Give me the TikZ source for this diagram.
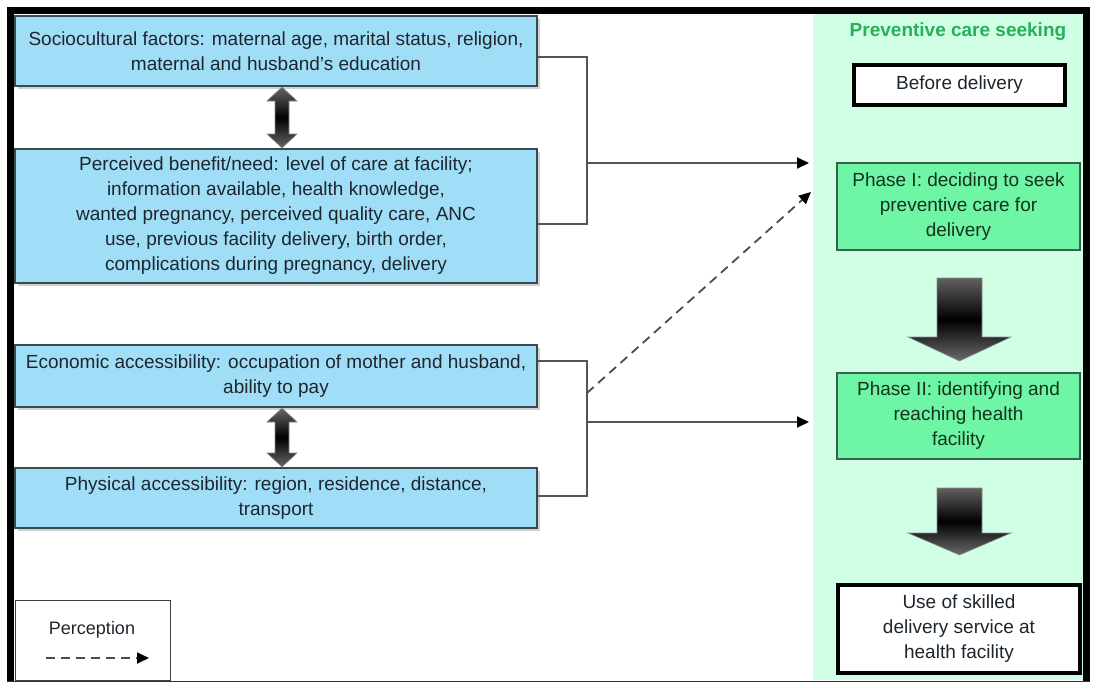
\documentclass[tikz,border=0pt]{standalone}
\usepackage{fontspec}
\setmainfont{Liberation Sans}
\usetikzlibrary{arrows.meta,shadows,calc}
\definecolor{boxblue}{RGB}{160,222,248}
\definecolor{boxedge}{RGB}{55,75,85}
\definecolor{panelgreen}{RGB}{208,255,230}
\definecolor{phasegreen}{RGB}{110,245,165}
\definecolor{phaseedge}{RGB}{55,100,70}
\definecolor{titlegreen}{RGB}{40,175,90}
\definecolor{conngray}{RGB}{85,85,85}
\definecolor{txtdark}{RGB}{30,38,45}
\definecolor{phasetxt}{RGB}{20,50,30}
\begin{document}
\begin{tikzpicture}[x=1pt,y=-1pt,
  every node/.style={font=\fontsize{19}{25}\selectfont, text=txtdark, inner sep=0pt, align=center},
  shadowed/.style={drop shadow={shadow xshift=3pt, shadow yshift=-3pt, opacity=0.3, fill=black!60}},
  factor/.style={draw=boxedge, line width=1.4pt, fill=boxblue, minimum width=522pt, shadowed},
  whitebox/.style={draw=black, line width=4.5pt, fill=white},
  phasebox/.style={draw=phaseedge, line width=1.4pt, fill=phasegreen, minimum width=243pt, minimum height=87pt, text=phasetxt},
  conn/.style={draw=conngray, line width=1.8pt},
  connarrow/.style={conn, -{Triangle[length=12pt,width=11pt,color=black]}},
  perc/.style={draw=black!70, line width=1.8pt, dash pattern=on 9pt off 6pt, -{Triangle[length=12pt,width=11pt,color=black]}},
  blockshade/.style={top color=black!62, bottom color=black!58, middle color=black, draw=black!45, line width=0.6pt},
  dblshade/.style={top color=black!60, bottom color=black!60, middle color=black, draw=black!45, line width=0.6pt}
]
\useasboundingbox (0,0) rectangle (1098,685);
\fill[white] (0,0) rectangle (1098,685);

% right panel
\fill[panelgreen] (813,14) rectangle (1083,680);

% outer frame
\draw[black!80, line width=1pt] (7,681) -- (1090,681);
\fill[black] (7,7) rectangle (1090,14);
\fill[black] (7,7) rectangle (14,681);
\fill[black] (1083,7) rectangle (1090,681);

% factor boxes
\node[factor, minimum height=70pt] (soc) at (276,51)
  {Sociocultural factors: maternal age, marital status, religion,\\ maternal and husband's education};
\node[factor, minimum height=134pt] (ben) at (276,216)
  {Perceived benefit/need: level of care at facility;\\ information available, health knowledge,\\ wanted pregnancy, perceived quality care, ANC\\ use, previous facility delivery, birth order,\\ complications during pregnancy, delivery};
\node[factor, minimum height=62pt] (eco) at (276,376)
  {Economic accessibility: occupation of mother and husband,\\ ability to pay};
\node[factor, minimum height=60pt] (phy) at (276,498)
  {Physical accessibility: region, residence, distance,\\ transport};

% double arrows between factor boxes
\path[dblshade] (282,87) -- (297,101) -- (289,101) -- (289,134) -- (297,134) -- (282,148)
  -- (267,134) -- (275,134) -- (275,101) -- (267,101) -- cycle;
\path[dblshade] (282,408) -- (297,422) -- (289,422) -- (289,453) -- (297,453) -- (282,467)
  -- (267,453) -- (275,453) -- (275,422) -- (267,422) -- cycle;

% right panel content
\node[font=\bfseries\fontsize{19}{25}\selectfont, text=titlegreen] (title) at (958,32) {Preventive care seeking};
\node[whitebox, minimum width=211pt, minimum height=40pt] (bd) at (959.5,85) {Before delivery};
\node[phasebox] (p1) at (958.5,206.5) {Phase I: deciding to seek\\ preventive care for\\ delivery};
\node[phasebox, minimum height=86pt] (p2) at (958.5,416) {Phase II: identifying and\\ reaching health\\ facility};
\node[whitebox, minimum width=242pt, minimum height=88pt] (use) at (959,629) {Use of skilled\\ delivery service at\\ health facility};

% block arrows
\path[blockshade] (937,278) -- (982,278) -- (982,337) -- (1011,337) -- (959.5,361)
  -- (908,337) -- (937,337) -- cycle;
\path[blockshade] (937,488) -- (982,488) -- (982,533) -- (1011,533) -- (959.5,555)
  -- (908,533) -- (937,533) -- cycle;

% connectors
\coordinate (j1) at (587,163);
\coordinate (j2) at (587,422);
\coordinate (t1) at (809,163);
\coordinate (t2) at (809,422);
\coordinate (d0) at (587,393);
\coordinate (d1) at (811,192);
\draw[conn] ($(soc.east)+(0,6)$) -| (j1) |- ($(ben.east)+(0,8)$);
\draw[connarrow] (j1) -- (t1);
\draw[conn] ($(eco.east)+(0,-15)$) -| (j2) |- ($(phy.east)+(0,-2)$);
\draw[connarrow] (j2) -- (t2);
\draw[perc] (d0) -- (d1);

% legend
\node[draw=black!75, line width=1pt, fill=white, minimum width=155pt, minimum height=80pt] (leg) at (92.5,640) {};
\node[font=\fontsize{18}{22}\selectfont] (legtxt) at (92,630) {Perception};
\coordinate (l0) at (46,658);
\coordinate (l1) at (149,658);
\draw[perc] (l0) -- (l1);
\end{tikzpicture}
\end{document}
